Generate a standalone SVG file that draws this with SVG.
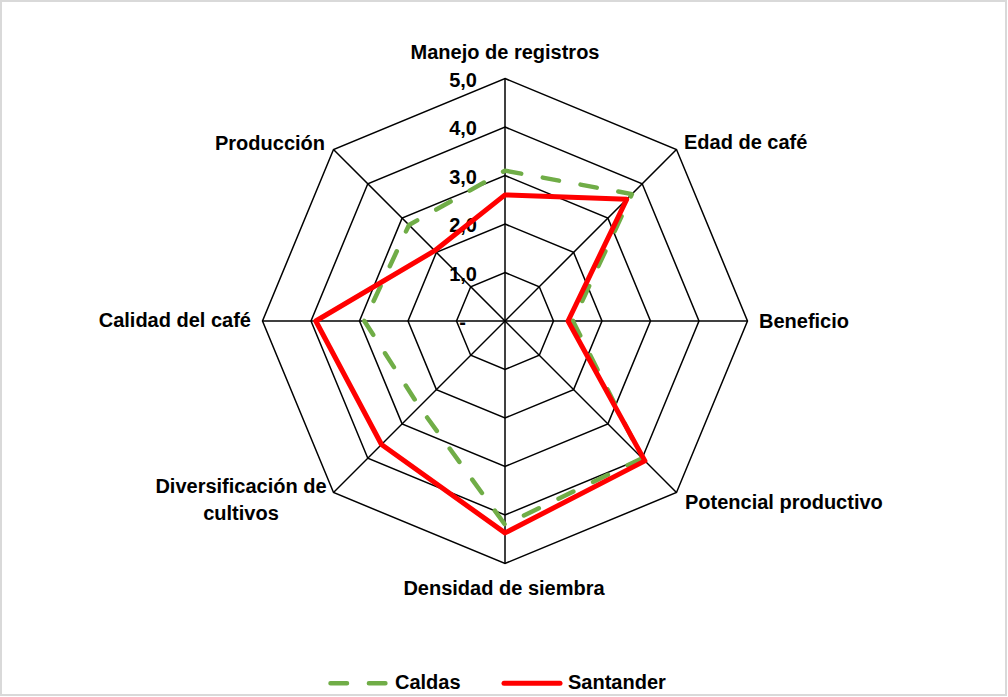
<svg xmlns="http://www.w3.org/2000/svg" width="1008" height="697" viewBox="0 0 1008 697">
<style>
  text { font-family: "Liberation Sans", Arial, sans-serif; font-weight: bold; font-size: 20px; fill: #000; }
  .grid { fill: none; stroke: #000; stroke-width: 1.5; stroke-linejoin: miter; }
  .axis { stroke: #000; stroke-width: 1.5; }
  .caldas { fill: none; stroke: #70ad47; stroke-width: 4.5; stroke-dasharray: 16.5 21.9; stroke-linecap: round; stroke-linejoin: round; }
  .santander { fill: none; stroke: #ff0000; stroke-width: 5; stroke-linejoin: round; stroke-linecap: round; }
  .end { text-anchor: end; }
  .mid { text-anchor: middle; }
</style>
<rect x="1" y="1" width="1005" height="694" fill="#ffffff" stroke="#d9d9d9" stroke-width="2"/>
<g id="grid">
  <polygon class="grid" points="505,272.5 539.3,286.7 553.5,321 539.3,355.3 505,369.5 470.7,355.3 456.5,321 470.7,286.7"/>
  <polygon class="grid" points="505,224 573.6,252.4 602,321 573.6,389.6 505,418 436.4,389.6 408,321 436.4,252.4"/>
  <polygon class="grid" points="505,175.5 607.9,218.1 650.5,321 607.9,423.9 505,466.5 402.1,423.9 359.5,321 402.1,218.1"/>
  <polygon class="grid" points="505,127 642.2,183.8 699,321 642.2,458.2 505,515 367.8,458.2 311,321 367.8,183.8"/>
  <polygon class="grid" points="505,78.5 676.5,149.5 747.5,321 676.5,492.5 505,563.5 333.5,492.5 262.5,321 333.5,149.5"/>
  <line class="axis" x1="505" y1="321" x2="505" y2="78.5"/>
  <line class="axis" x1="505" y1="321" x2="676.5" y2="149.5"/>
  <line class="axis" x1="505" y1="321" x2="747.5" y2="321"/>
  <line class="axis" x1="505" y1="321" x2="676.5" y2="492.5"/>
  <line class="axis" x1="505" y1="321" x2="505" y2="563.5"/>
  <line class="axis" x1="505" y1="321" x2="333.5" y2="492.5"/>
  <line class="axis" x1="505" y1="321" x2="262.5" y2="321"/>
  <line class="axis" x1="505" y1="321" x2="333.5" y2="149.5"/>
</g>
<g id="scale">
  <text class="end" x="477" y="86.5">5,0</text>
  <text class="end" x="477" y="135">4,0</text>
  <text class="end" x="477" y="183.5">3,0</text>
  <text class="end" x="477" y="232">2,0</text>
  <text class="end" x="477" y="280.5">1,0</text>
  <text class="end" x="466" y="329">-</text>
</g>
<g id="series">
  <polygon id="caldas" class="caldas" points="505,170.65 631.9,194.1 572.9,321 642.2,458.2 505,524.7 419.3,406.7 364.35,321 409,225"/>
  <polygon id="santander" class="santander" points="505,194.9 626.7,199.3 568.05,321 644.9,460.9 505,532.9 381.5,444.5 315.8,321 434.7,250.7"/>
</g>
<g id="labels">
  <text class="mid" x="505" y="58.5">Manejo de registros</text>
  <text x="684" y="148.5">Edad de café</text>
  <text x="759" y="327.5">Beneficio</text>
  <text x="685" y="508.5">Potencial productivo</text>
  <text class="mid" x="504" y="594.5">Densidad de siembra</text>
  <text class="mid" x="241" y="492.5">Diversificación de</text>
  <text class="mid" x="241" y="520">cultivos</text>
  <text class="end" x="251" y="327">Calidad del café</text>
  <text class="end" x="325" y="149.5">Producción</text>
</g>
<g id="legend">
  <line class="caldas" x1="330.5" y1="683.3" x2="385.5" y2="683.3"/>
  <text x="395" y="689">Caldas</text>
  <line class="santander" x1="504" y1="683.3" x2="560" y2="683.3" stroke-linecap="round"/>
  <text x="568" y="689">Santander</text>
</g>
</svg>
